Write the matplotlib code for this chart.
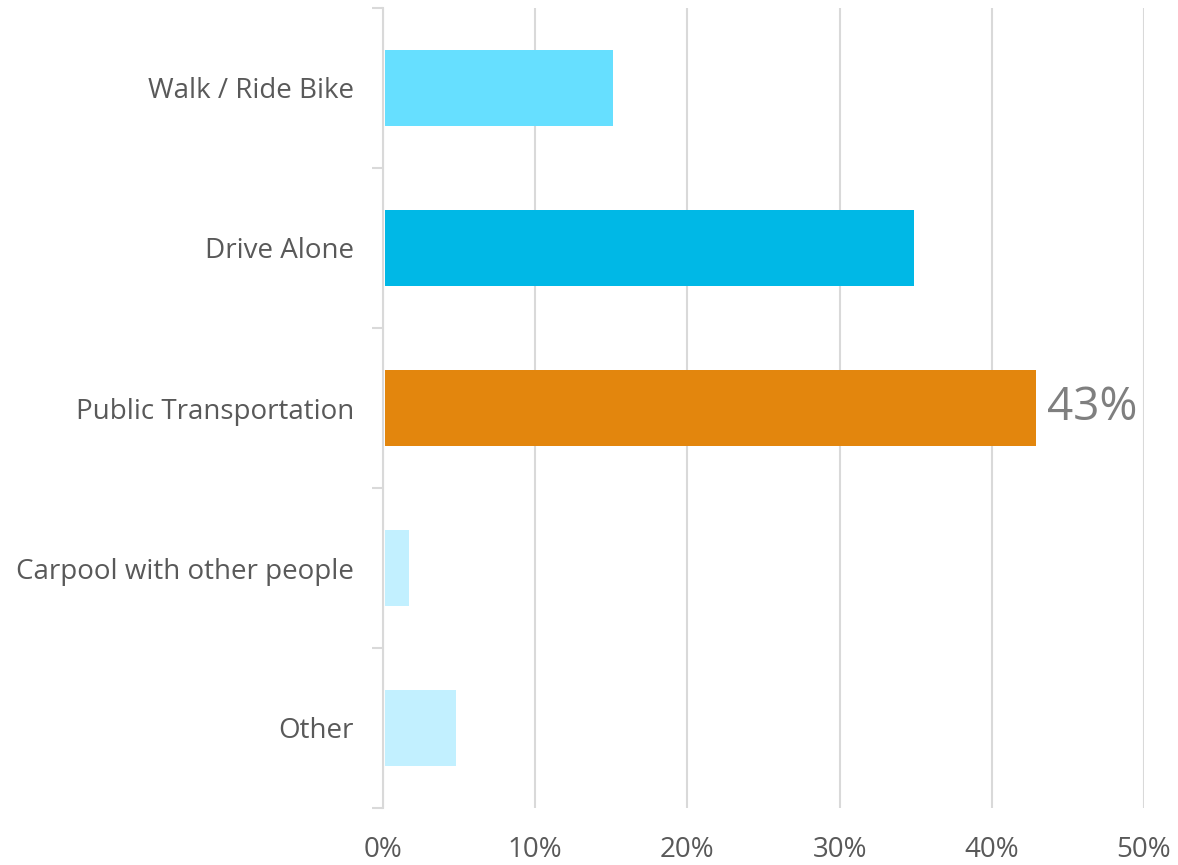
import matplotlib.pyplot as plt
import numpy as np

categories = ["Walk / Ride Bike", "Drive Alone", "Public Transportation",
              "Carpool with other people", "Other"]
values = [15.1, 34.9, 42.9, 1.7, 4.8]
colors = ["#66DFFF", "#00B8E6", "#E3860D", "#C2F0FF", "#C2F0FF"]
xticks = [0, 10, 20, 30, 40, 50]

plt.rcParams['font.family'] = ['Open Sans', 'DejaVu Sans']

fig = plt.figure(figsize=(11.78, 8.65), dpi=100)
ax = fig.add_axes([383/1178, 1-808/865, (1144-383)/1178, 800/865])

# small gap between the axis line and the bars, like the original
gap = 0.1
y = np.arange(len(categories))
ax.barh(y, [v - gap for v in values], left=gap, height=0.48, color=colors, zorder=3)

ax.set_xlim(0, 50)
ax.set_ylim(len(categories)-0.5, -0.5)

ax.set_xticks(xticks)
ax.set_xticklabels([f"{t}%" for t in xticks], fontsize=20, color="#595959")
ax.tick_params(axis='x', length=0, pad=20)
ax.grid(axis='x', color="#D9D9D9", linewidth=1.5, zorder=0)

ax.set_yticks(y)
ax.set_yticklabels(categories, fontsize=20, color="#595959")
ax.tick_params(axis='y', which='major', length=0, pad=21)
ax.set_yticks(np.arange(-0.5, len(categories)), minor=True)
ax.tick_params(axis='y', which='minor', length=8, width=1.5, color="#D9D9D9")

for s in ['top', 'right', 'bottom']:
    ax.spines[s].set_visible(False)
ax.spines['left'].set_color("#D9D9D9")
ax.spines['left'].set_linewidth(1.5)

i = values.index(max(values))
ax.text(values[i] + 0.7, i, "43%", va='center', ha='left', fontsize=33, color="#7F7F7F")

fig.savefig("out.png", dpi=100)
